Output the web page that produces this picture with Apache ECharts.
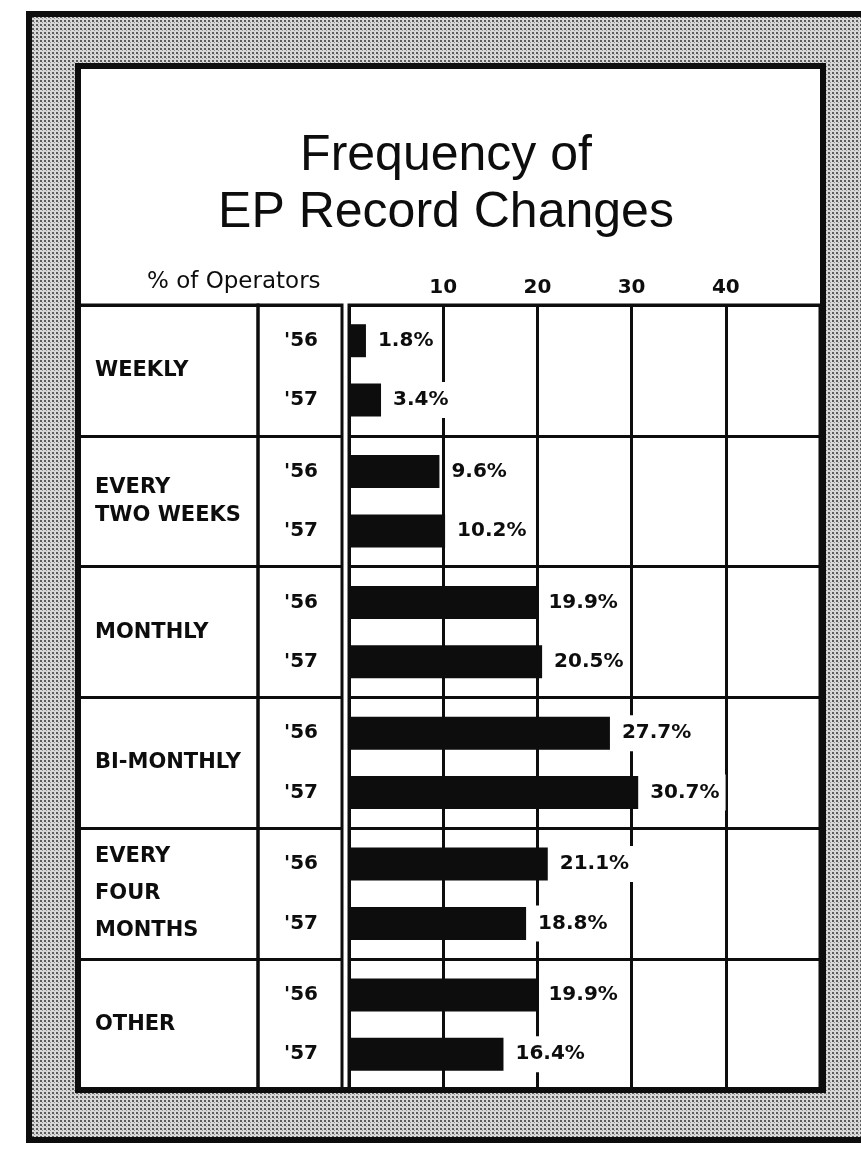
<!DOCTYPE html>
<html>
<head>
<meta charset="utf-8">
<script src="https://cdn.jsdelivr.net/npm/echarts@6/dist/echarts.min.js"></script>
<style>
  html, body { margin: 0; padding: 0; background: #fff; }
  #chart { width: 861px; height: 1149px; }
</style>
</head>
<body>
<div id="chart"></div>
<script>
// ---- data ----
const titleLines = ['Frequency of', 'EP Record Changes'];
const axisTitle = '% of Operators';
const categories = ['WEEKLY', 'EVERY\nTWO WEEKS', 'MONTHLY', 'BI-MONTHLY', 'EVERY\nFOUR\nMONTHS', 'OTHER'];
const yearLabels = ["'56", "'57"];
const values56 = [1.8, 9.6, 19.9, 27.7, 21.1, 19.9];
const values57 = [3.4, 10.2, 20.5, 30.7, 18.8, 16.4];
const tickValues = [10, 20, 30, 40];

// ---- style ----
const INK = '#0d0d0d';
const LABEL_FONT = 'DejaVu Sans';
const RULE = { color: INK, width: 3 };

// halftone screen used for the outer mount
function screenPattern() {
  const c = document.createElement('canvas');
  c.width = 4; c.height = 4;
  const g = c.getContext('2d');
  g.fillStyle = '#d8d8d8'; g.fillRect(0, 0, 4, 4);
  g.fillStyle = '#5c5c5c'; g.fillRect(0, 0, 2, 2);
  g.fillStyle = '#929292'; g.fillRect(2, 2, 1, 1);
  return c;
}

const chart = echarts.init(document.getElementById('chart'), null, { renderer: 'canvas' });

const PLOT_TOP = 305, PLOT_H = 785;

const rowAxis = (gridIndex, label) => ({
  gridIndex, type: 'category', data: categories, inverse: true,
  axisLine: { show: false }, axisTick: { show: false },
  splitLine: { show: true, lineStyle: RULE },
  axisLabel: label
});

const valueLabel = {
  show: true, position: 'right', distance: 6,
  formatter: p => p.value.toFixed(1) + '%',
  fontFamily: LABEL_FONT, fontWeight: 'bold', fontSize: 20, color: INK,
  backgroundColor: '#fff', padding: [9, 6, 7, 6]
};

chart.setOption({
  animation: false,
  backgroundColor: '#fff',
  graphic: [
    { type: 'rect', z: -10, shape: { x: 29, y: 14, width: 900, height: 1126 },
      style: { fill: { image: screenPattern(), repeat: 'repeat' }, stroke: INK, lineWidth: 6 } },
    { type: 'rect', z: -9, shape: { x: 78, y: 66, width: 745, height: 1024 },
      style: { fill: '#fff', stroke: INK, lineWidth: 6 } },
    { type: 'text', z: 5, x: 446, y: 128,
      style: { text: titleLines.join('\n'), fill: INK, fontFamily: 'Liberation Sans', fontSize: 50,
               lineHeight: 57, align: 'center', verticalAlign: 'top' } },
    { type: 'text', z: 5, x: 147, y: 271,
      style: { text: axisTitle, fill: INK, fontFamily: LABEL_FONT, fontSize: 23,
               align: 'left', verticalAlign: 'top' } }
  ],
  grid: [
    { left: 78, top: PLOT_TOP, width: 180, height: PLOT_H, show: true, borderColor: INK, borderWidth: 3 },
    { left: 258, top: PLOT_TOP, width: 84, height: PLOT_H, show: true, borderColor: INK, borderWidth: 3 },
    { left: 349, top: PLOT_TOP, width: 471, height: PLOT_H, show: true, borderColor: INK, borderWidth: 3 }
  ],
  xAxis: [
    { gridIndex: 0, type: 'value', show: false },
    { gridIndex: 1, type: 'value', show: false },
    { gridIndex: 2, type: 'value', position: 'top', min: 0, max: 50, interval: 10,
      axisLine: { show: false }, axisTick: { show: false },
      splitLine: { show: true, lineStyle: RULE },
      axisLabel: { margin: 7, fontFamily: LABEL_FONT, fontWeight: 'bold', fontSize: 20, color: INK,
                   formatter: v => tickValues.includes(v) ? String(v) : '' } }
  ],
  yAxis: [
    rowAxis(0, {
      inside: true, margin: 17, align: 'left', interval: 0,
      fontFamily: LABEL_FONT, fontWeight: 'bold', fontSize: 21, color: INK, lineHeight: 28,
      formatter: name => {
        const lines = name.split('\n');
        return lines.length > 2 ? lines.map(l => '{tall|' + l + '}').join('\n') : name;
      },
      rich: { tall: { fontFamily: LABEL_FONT, fontWeight: 'bold', fontSize: 21, color: INK, lineHeight: 37 } }
    }),
    rowAxis(1, {
      inside: true, margin: 43, align: 'center', interval: 0,
      fontFamily: LABEL_FONT, fontWeight: 'bold', fontSize: 20, color: INK, lineHeight: 59.4,
      formatter: () => yearLabels.join('\n')
    }),
    rowAxis(2, { show: false })
  ],
  series: [
    { name: yearLabels[0], type: 'bar', xAxisIndex: 2, yAxisIndex: 2, data: values56,
      barWidth: 33, barGap: '80%', itemStyle: { color: INK }, label: valueLabel },
    { name: yearLabels[1], type: 'bar', xAxisIndex: 2, yAxisIndex: 2, data: values57,
      barWidth: 33, barGap: '80%', itemStyle: { color: INK }, label: valueLabel }
  ]
});
</script>
</body>
</html>
